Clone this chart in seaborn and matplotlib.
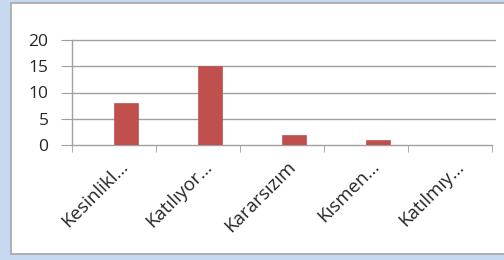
import pandas as pd
import numpy as np
import matplotlib
matplotlib.use("Agg")
import matplotlib.pyplot as plt
from matplotlib.patches import Rectangle
from matplotlib.transforms import ScaledTranslation
import seaborn as sns

# dados do gráfico (Excel: duas séries, a primeira vazia)
categorias = ["Kesinlikl…", "Katılıyor…", "Kararsızım", "Kısmen…", "Katılmıy…"]
serie_1 = [np.nan, np.nan, np.nan, np.nan, np.nan]
serie_2 = [8, 15, 2, 1, 0]
y_ticks = [0, 5, 10, 15, 20]

df = pd.DataFrame(
    {
        "categoria": categorias * 2,
        "valor": serie_1 + serie_2,
        "serie": ["s1"] * len(categorias) + ["s2"] * len(categorias),
    }
)

sns.set_style("white")
plt.rcParams["font.family"] = ["Open Sans", "DejaVu Sans"]

W, H = 504, 260
fig = plt.figure(figsize=(W / 100, H / 100), dpi=100, facecolor="#c6d9f1")

# moldura branca do gráfico
fig.add_artist(
    Rectangle(
        (11 / W, 1 - 254 / H), (W - 11) / W + 0.01, (254 - 3) / H,
        transform=fig.transFigure, facecolor="white",
        edgecolor="#a6a6a6", linewidth=1.2, zorder=-10,
    )
)

ax = fig.add_axes([72 / W, 1 - 145 / H, (492 - 72) / W, (145 - 40) / H])
ax.set_facecolor("none")

sns.barplot(
    data=df, x="categoria", y="valor", hue="serie",
    palette=["#4f81bd", "#c0504d"], width=0.571, gap=0,
    saturation=1, legend=False, ax=ax, zorder=3,
    edgecolor="#c0504d", linewidth=0.5,
)

ax.set_ylim(0, 20)
ax.set_xlim(-0.5, len(categorias) - 0.5)
ax.set_yticks(y_ticks)
ax.set_yticklabels([str(t) for t in y_ticks], fontsize=12.5, color="#262626")
ax.set_xlabel("")
ax.set_ylabel("")

# grade horizontal
for t in y_ticks[1:]:
    ax.axhline(t, color="#a0a0a0", linewidth=1.0, zorder=1, xmax=1.008, clip_on=False)

for side in ["top", "right"]:
    ax.spines[side].set_visible(False)
ax.spines["left"].set_color("#a0a0a0")
ax.spines["bottom"].set_color("#a0a0a0")
ax.spines["left"].set_linewidth(1.0)
ax.spines["bottom"].set_linewidth(1.0)

ax.tick_params(axis="y", length=8, color="#a0a0a0", pad=9, left=True)

# marcas entre categorias
ax.set_xticks(np.arange(len(categorias) + 1) - 0.5, minor=True)
ax.tick_params(axis="x", which="minor", length=5, color="#a0a0a0", bottom=True)
ax.set_xticks(np.arange(len(categorias)))
ax.tick_params(axis="x", which="major", length=0, pad=0)
ax.set_xticklabels(
    categorias, rotation=45, ha="right", va="center", rotation_mode="anchor",
    fontsize=13.5, color="#262626",
)
desloc = ScaledTranslation(11 / 100, -19 / 100, fig.dpi_scale_trans)
for lbl in ax.get_xticklabels():
    lbl.set_transform(lbl.get_transform() + desloc)

fig.savefig("out.png", dpi=100, facecolor=fig.get_facecolor())
